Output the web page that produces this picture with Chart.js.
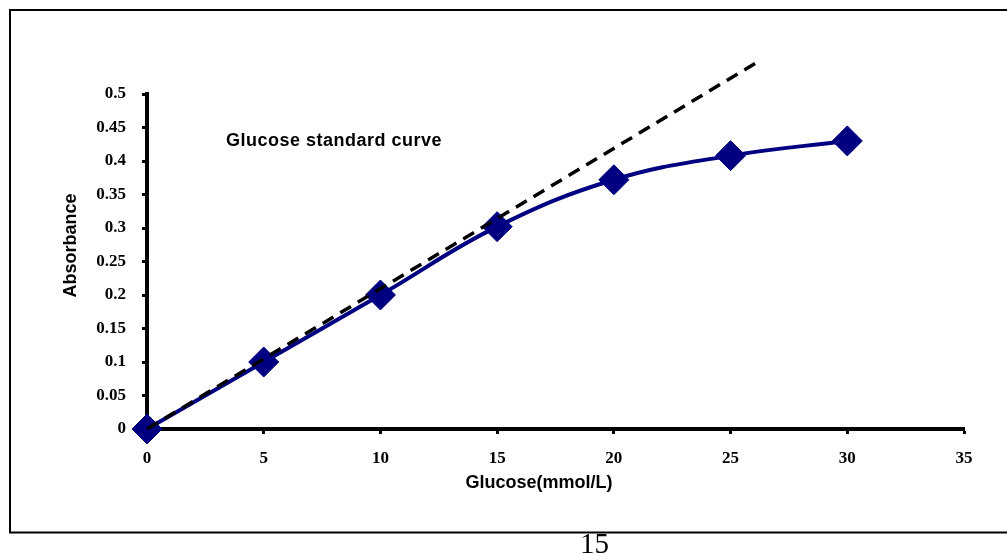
<!DOCTYPE html>
<html>
<head>
<meta charset="utf-8">
<script src="https://cdn.jsdelivr.net/npm/chart.js@4"></script>
<style>
  html, body { margin: 0; padding: 0; background: #fff; overflow: hidden; }
  canvas { display: block; }
</style>
</head>
<body>
<canvas id="c" width="1007" height="556"></canvas>
<script>
// Measured standards: glucose concentration (mmol/L) vs absorbance
const glucose = [0, 5, 10, 15, 20, 25, 30];
const absorbance = [0, 0.1, 0.2, 0.302, 0.372, 0.408, 0.43];

// Linear reference line through the origin
const fitX = [0, 26.26];
const fitY = [0, 0.55];

const xTickLabels = ['0', '5', '10', '15', '20', '25', '30', '35'];
const yTickLabels = ['0', '0.05', '0.1', '0.15', '0.2', '0.25', '0.3', '0.35', '0.4', '0.45', '0.5'];

const chartNote = 'Glucose standard curve';
const xTitle = 'Glucose(mmol/L)';
const yTitle = 'Absorbance';
const pageNumber = '15';

const NAVY = '#000080';
const tickFont = { family: "'Liberation Serif', 'Times New Roman', serif", weight: 'bold', size: 17 };
const sansBold = "bold 18px 'Liberation Sans', Arial, sans-serif";

// Page frame, in-plot note, axis titles and page number
const decorations = {
  id: 'decorations',
  beforeDraw(chart) {
    const ctx = chart.ctx;
    ctx.save();
    ctx.fillStyle = '#fff';
    ctx.fillRect(0, 0, chart.width, chart.height);
    ctx.strokeStyle = '#000';
    ctx.lineWidth = 2;
    ctx.beginPath();
    ctx.moveTo(1007, 10);
    ctx.lineTo(10, 10);
    ctx.lineTo(10, 532.5);
    ctx.lineTo(1007, 532.5);
    ctx.stroke();
    ctx.restore();
  },
  afterDraw(chart) {
    const ctx = chart.ctx;
    ctx.save();
    ctx.fillStyle = '#000';
    ctx.font = sansBold;
    ctx.textBaseline = 'alphabetic';

    ctx.textAlign = 'left';
    ctx.letterSpacing = '0.5px';
    ctx.fillText(chartNote, 226, 146);
    ctx.letterSpacing = '0px';

    ctx.textAlign = 'center';
    ctx.fillText(xTitle, 539, 488);

    ctx.save();
    ctx.translate(75.5, 245.5);
    ctx.rotate(-Math.PI / 2);
    ctx.fillText(yTitle, 0, 0);
    ctx.restore();

    ctx.font = "29px 'Liberation Serif', 'Times New Roman', serif";
    ctx.fillText(pageNumber, 594.5, 553);
    ctx.restore();
  }
};

new Chart(document.getElementById('c'), {
  type: 'scatter',
  data: {
    datasets: [
      {
        label: 'Linear',
        data: fitX.map((x, i) => ({ x, y: fitY[i] })),
        showLine: true,
        borderColor: '#000',
        borderWidth: 3.5,
        borderDash: [12.5, 8],
        pointRadius: 0,
        clip: false,
        order: 0
      },
      {
        label: 'Standard',
        data: glucose.map((x, i) => ({ x, y: absorbance[i] })),
        showLine: true,
        borderColor: NAVY,
        borderWidth: 4,
        tension: 0.4,
        pointStyle: 'rectRot',
        pointRadius: 15,
        pointBorderWidth: 1,
        pointBackgroundColor: NAVY,
        pointBorderColor: NAVY,
        clip: false,
        order: 1
      }
    ]
  },
  options: {
    responsive: false,
    animation: false,
    events: [],
    layout: { padding: { top: 94, right: 43, left: 0, bottom: 0 } },
    plugins: { legend: { display: false }, tooltip: { enabled: false } },
    scales: {
      x: {
        type: 'linear',
        min: 0,
        max: 35,
        ticks: {
          stepSize: 5,
          color: '#000',
          font: tickFont,
          padding: 14,
          maxRotation: 0,
          callback: (v, i) => xTickLabels[i]
        },
        grid: { drawOnChartArea: false, drawTicks: true, tickLength: 5, tickWidth: 3, tickColor: '#000' },
        border: { color: '#000', width: 4 },
        afterFit: s => { s.height = 127; }
      },
      y: {
        min: 0,
        max: 0.5,
        ticks: {
          stepSize: 0.05,
          color: '#000',
          font: tickFont,
          padding: 16,
          callback: (v, i) => yTickLabels[i]
        },
        grid: { drawOnChartArea: false, drawTicks: true, tickLength: 5, tickWidth: 3, tickColor: '#000' },
        border: { color: '#000', width: 4 },
        afterFit: s => { s.width = 147; }
      }
    }
  },
  plugins: [decorations]
});
</script>
</body>
</html>
